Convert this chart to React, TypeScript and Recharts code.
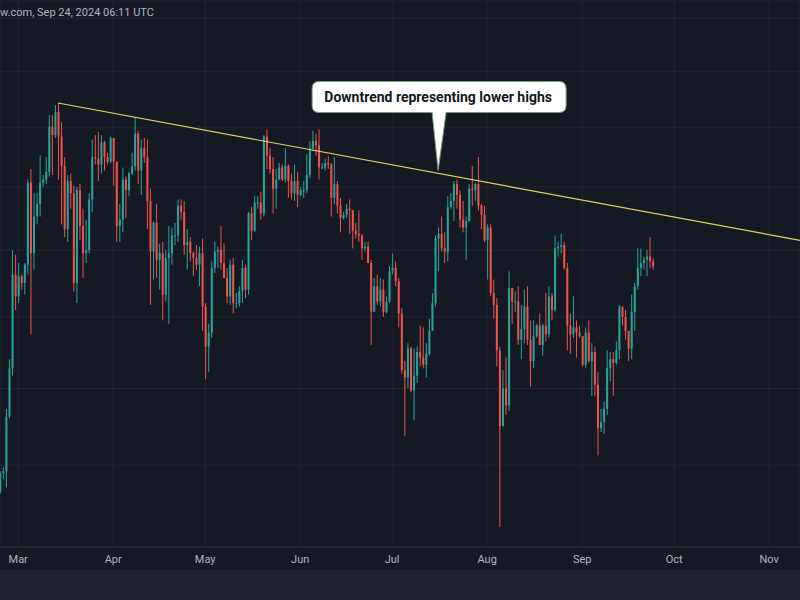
import React from "react";
import {
  ComposedChart,
  Bar,
  XAxis,
  YAxis,
  CartesianGrid,
  ReferenceLine,
  ReferenceDot,
} from "recharts";

// daily candles, BTC/USD in thousands, Feb 24 -> Sep 24 2024 (day 0 = Mar 1)
const firstDay = -6;
const firstOpen = 50.7;

const closes = [
  51.6, 51.7, 54.5, 57.1, 62.5, 61.2,
  62.4, 62.0, 63.1, 68.3, 63.8, 66.1, 66.9, 68.3, 68.5, 69.0, 72.1, 71.5, 73.1, 71.4, 69.4, 65.3, 68.4, 67.6, 62.0, 67.8, 65.5, 63.8, 64.0, 67.2, 70.0, 69.9, 69.5, 71.0, 70.0, 69.7, 71.3,
  69.7, 65.5, 65.9, 68.5, 67.8, 68.9, 69.4, 71.6, 69.1, 70.6, 70.0, 67.1, 63.9, 65.7, 63.4, 63.8, 61.3, 63.5, 63.8, 64.9, 64.9, 66.8, 66.4, 64.3, 64.5, 63.8, 63.5, 63.1, 63.8, 60.6,
  58.3, 59.1, 62.9, 63.9, 64.0, 63.2, 62.3, 61.2, 63.1, 60.8, 60.8, 61.5, 62.9, 61.6, 66.3, 65.2, 67.0, 67.0, 66.3, 71.4, 70.1, 69.2, 67.9, 68.5, 69.3, 68.5, 69.4, 68.4, 67.6, 68.4, 67.5,
  67.8, 67.8, 68.8, 70.6, 71.1, 70.8, 69.3, 69.3, 69.6, 69.5, 67.3, 68.2, 66.8, 66.0, 66.2, 66.6, 66.5, 65.2, 65.0, 64.9, 64.1, 64.2, 63.2, 60.3, 61.8, 60.9, 61.6, 60.3, 60.9, 62.7,
  62.9, 62.1, 60.2, 57.0, 56.6, 58.2, 55.9, 56.7, 58.0, 57.7, 57.3, 57.9, 59.2, 60.8, 64.7, 65.0, 64.1, 63.9, 66.7, 67.1, 68.2, 67.5, 65.9, 65.4, 65.8, 67.9, 67.8, 68.2, 66.8, 66.2, 64.6,
  65.4, 61.4, 60.7, 58.1, 54.0, 56.0, 55.1, 61.7, 60.9, 60.9, 58.7, 59.3, 60.6, 58.7, 57.5, 58.9, 59.5, 58.4, 59.5, 59.0, 61.2, 60.4, 64.1, 64.2, 64.3, 62.9, 59.5, 59.0, 59.4, 59.1, 58.9,
  57.3, 59.1, 57.5, 58.0, 56.2, 53.9, 54.2, 54.9, 57.1, 57.6, 57.4, 58.1, 60.6, 60.0, 59.2, 58.2, 60.3, 61.8, 62.9, 63.2, 63.4, 63.6, 63.3, 63.0,
];

const highs = [
  51.7, 51.9, 54.9, 57.6, 64.0, 63.7,
  63.2, 62.5, 63.2, 68.5, 69.2, 67.6, 67.6, 70.1, 68.8, 70.0, 72.9, 72.9, 73.6, 73.75, 72.4, 70.0, 68.8, 68.9, 68.1, 68.0, 68.2, 66.6, 65.9, 67.6, 71.2, 71.5, 71.7, 71.5, 71.1, 70.3, 71.4,
  71.3, 69.7, 66.9, 69.3, 68.7, 69.0, 70.3, 72.7, 71.8, 71.2, 71.3, 71.2, 67.9, 65.8, 66.9, 64.4, 64.5, 64.0, 65.5, 65.4, 65.7, 67.2, 67.2, 67.1, 65.3, 64.8, 63.9, 64.3, 64.2, 64.7,
  60.8, 59.6, 63.3, 64.5, 64.2, 65.5, 64.4, 62.9, 63.4, 63.5, 61.4, 61.8, 63.4, 63.1, 66.4, 66.7, 67.4, 67.4, 67.7, 71.5, 71.9, 70.6, 70.0, 69.2, 69.6, 69.5, 70.6, 69.5, 68.9, 69.5, 69.0,
  68.0, 68.4, 70.2, 71.1, 71.8, 71.6, 71.9, 69.6, 69.9, 70.1, 69.6, 70.0, 68.4, 67.3, 66.4, 66.9, 67.2, 66.5, 65.7, 66.5, 65.0, 64.5, 64.5, 63.4, 62.3, 62.5, 62.3, 62.2, 61.2, 63.0,
  63.8, 63.3, 62.3, 60.5, 57.5, 58.5, 58.3, 58.2, 58.3, 59.5, 59.4, 58.5, 59.9, 61.4, 64.9, 65.4, 66.1, 65.1, 67.4, 67.6, 68.4, 68.5, 67.8, 67.1, 66.1, 68.2, 69.4, 68.3, 70.0, 66.9, 66.8,
  65.6, 65.6, 62.2, 61.1, 58.3, 57.0, 57.7, 62.7, 61.7, 61.5, 61.8, 60.7, 61.6, 61.8, 59.8, 59.8, 59.6, 60.2, 59.6, 61.4, 61.8, 61.4, 64.9, 64.5, 65.0, 64.5, 63.2, 60.2, 61.2, 59.8, 59.5,
  58.9, 59.4, 59.8, 58.5, 58.3, 56.9, 54.9, 55.3, 58.1, 58.0, 58.0, 58.6, 60.7, 60.6, 60.4, 59.2, 61.3, 62.0, 64.1, 64.1, 63.6, 64.0, 64.8, 63.5,
];

const lows = [
  50.6, 51.3, 50.9, 54.4, 56.7, 60.4,
  60.8, 61.6, 61.3, 62.5, 59.0, 62.8, 65.6, 66.1, 68.0, 68.2, 68.7, 68.8, 71.3, 68.5, 65.6, 64.8, 64.5, 66.6, 61.5, 60.8, 64.6, 62.3, 63.2, 63.8, 66.4, 69.5, 68.4, 68.9, 69.1, 69.5, 69.6,
  68.1, 64.5, 64.5, 65.1, 66.0, 67.4, 68.8, 69.1, 68.2, 67.5, 69.6, 65.3, 60.7, 62.2, 62.3, 61.6, 59.8, 60.9, 59.6, 63.1, 64.3, 64.5, 65.9, 63.7, 62.8, 63.3, 62.4, 62.8, 61.8, 59.2,
  56.5, 56.9, 58.8, 62.6, 62.9, 62.8, 62.3, 60.8, 60.7, 60.2, 60.5, 60.6, 60.8, 61.1, 61.3, 64.6, 65.1, 66.6, 65.9, 66.1, 69.2, 68.9, 66.3, 66.6, 68.5, 68.4, 68.3, 67.3, 67.2, 67.1, 66.7,
  67.4, 67.3, 67.6, 68.6, 70.4, 70.1, 68.5, 69.2, 69.1, 69.2, 66.1, 66.9, 66.3, 65.1, 65.9, 66.0, 65.0, 64.1, 64.7, 64.5, 63.4, 63.9, 63.2, 58.4, 60.3, 60.7, 60.6, 60.0, 60.2, 60.8,
  62.5, 61.8, 59.4, 56.8, 53.5, 56.0, 55.8, 54.3, 56.3, 57.2, 57.1, 56.6, 57.8, 59.3, 60.6, 62.7, 63.9, 63.2, 63.3, 66.6, 65.8, 66.6, 65.4, 65.1, 63.4, 65.8, 66.8, 67.1, 66.5, 65.3, 64.5,
  62.2, 61.2, 59.9, 57.2, 49.0, 54.0, 54.6, 54.8, 59.6, 60.3, 58.4, 57.6, 58.5, 58.4, 56.1, 57.1, 58.8, 58.4, 57.8, 58.6, 58.8, 59.8, 60.3, 63.6, 63.8, 62.8, 58.1, 57.9, 58.8, 57.7, 58.8,
  57.2, 57.1, 57.4, 55.6, 55.6, 52.5, 53.7, 53.6, 54.6, 56.4, 55.6, 57.3, 57.6, 59.5, 58.7, 57.5, 57.6, 59.2, 61.6, 62.4, 62.8, 62.4, 62.9, 62.8,
];

const monthStarts = [0, 31, 61, 92, 122, 153, 184, 214, 245];
const monthLabels = ["Mar", "Apr", "May", "Jun", "Jul", "Aug", "Sep", "Oct", "Nov"];
const priceTicks = [52, 56, 60, 64, 68, 72, 76, 80];

const trendStart = { day: 13, price: 73.75 };
const trendEnd = { day: 255.07, price: 64.6 };
const callout = { day: 137, price: 69.1, text: "Downtrend representing lower highs" };
const headerText = "w.com, Sep 24, 2024 06:11 UTC";

const UP = "#26a69a";
const DOWN = "#ef5350";
const FONT = "Roboto, 'Noto Sans', sans-serif";

const data = closes.map((c, i) => ({
  day: firstDay + i,
  open: i === 0 ? firstOpen : closes[i - 1],
  close: c,
  high: highs[i],
  low: lows[i],
  range: [lows[i], highs[i]],
}));

const Candle = (props: any) => {
  const { x, y, width, height, payload } = props;
  if (!payload) return null;
  const { open, close, high, low } = payload;
  const top = Math.min(y, y + height);
  const h = Math.abs(height);
  const span = Math.log(high) - Math.log(low);
  // log axis, so place open/close by log position inside the high-low bar
  const toY = (v: number) => (span > 0 ? top + (h * (Math.log(high) - Math.log(v))) / span : top);
  const color = close >= open ? UP : DOWN;
  const cx = x + width / 2;
  const b1 = Math.min(toY(open), toY(close));
  const b2 = Math.max(toY(open), toY(close));
  return (
    <g>
      <line x1={cx} x2={cx} y1={top} y2={top + h} stroke={color} strokeWidth={1} />
      <rect x={x} y={b1} width={width} height={Math.max(1, b2 - b1)} fill={color} />
    </g>
  );
};

const Callout = (props: any) => {
  const { cx, cy } = props;
  const l = cx - 126;
  const r = cx + 128;
  const t = cy - 89;
  const b = cy - 58;
  const k = 7;
  const d = `M${l + k},${t} H${r - k} Q${r},${t} ${r},${t + k} V${b - k} Q${r},${b} ${r - k},${b} H${cx + 8} L${cx},${cy} L${cx - 6},${b} H${l + k} Q${l},${b} ${l},${b - k} V${t + k} Q${l},${t} ${l + k},${t} Z`;
  return (
    <g>
      <path d={d} fill="#ffffff" stroke="#6f9f7a" strokeWidth={1} />
      <text x={cx} y={cy - 69} textAnchor="middle" fontFamily={FONT} fontWeight={700} fontSize={14} fill="#131722">
        {callout.text}
      </text>
    </g>
  );
};

export default function App() {
  return (
    <div style={{ position: "fixed", left: 0, top: 0, width: 800, height: 600, background: "#1e222d" }}>
      <div style={{ position: "relative", width: 800, height: 570, background: "#151924" }}>
        <ComposedChart width={800} height={570} data={data} margin={{ top: 0, right: 0, bottom: 0, left: 0 }}>
          <CartesianGrid stroke="#222633" strokeWidth={1} />
          <XAxis
            type="number"
            dataKey="day"
            domain={[-5.94, 255.07]}
            ticks={monthStarts}
            interval={0}
            allowDataOverflow
            tickFormatter={(v: number) => monthLabels[monthStarts.indexOf(v)]}
            height={23}
            axisLine={{ stroke: "#2a2e39" }}
            tickLine={false}
            tick={{ fill: "#b2b5be", fontSize: 11, fontFamily: FONT }}
          />
          <YAxis type="number" scale="log" domain={[48.06, 81.45]} ticks={priceTicks} allowDataOverflow hide />
          <Bar dataKey="range" barSize={2} shape={Candle} isAnimationActive={false} />
          <ReferenceLine
            segment={[
              { x: trendStart.day, y: trendStart.price },
              { x: trendEnd.day, y: trendEnd.price },
            ]}
            stroke="#e3d35a"
            strokeWidth={1.2}
            ifOverflow="visible"
          />
          <ReferenceDot x={callout.day} y={callout.price} r={0} shape={Callout} ifOverflow="visible" />
        </ComposedChart>
        <div
          style={{
            position: "absolute",
            left: 0,
            top: 6,
            fontFamily: FONT,
            fontSize: 11,
            color: "#b2b5be",
            whiteSpace: "nowrap",
          }}
        >
          {headerText}
        </div>
      </div>
    </div>
  );
}
